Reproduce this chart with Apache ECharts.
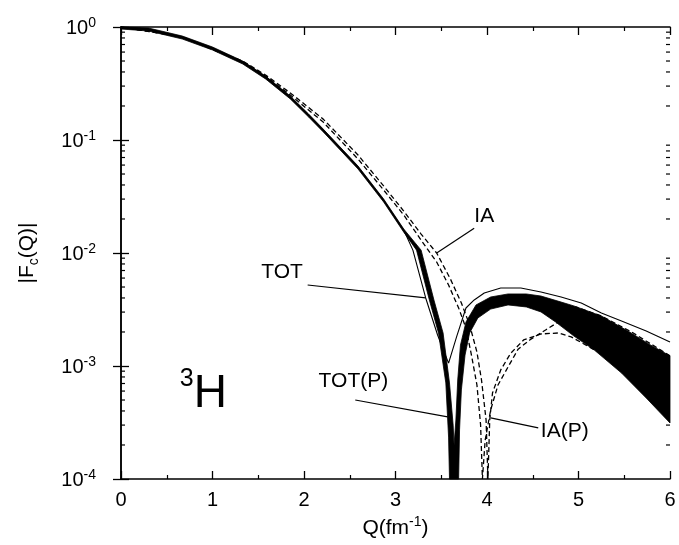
<!DOCTYPE html>
<html>
<head>
<meta charset="utf-8">
<script src="https://cdn.jsdelivr.net/npm/echarts@6/dist/echarts.min.js"></script>
<style>
html, body { margin: 0; padding: 0; background: #fff; }
#chart { width: 679px; height: 545px; }
</style>
</head>
<body>
<div id="chart"></div>
<script>
// |Fc(Q)| of 3H (Q in fm^-1)
var totQ = [0, 0.30, 0.67, 1.00, 1.33, 1.58, 1.85, 2.05, 2.21, 2.59, 2.87, 3.09, 3.19, 3.33, 3.46, 3.58, 3.67, 3.77, 3.86, 3.97, 4.15, 4.37, 4.59, 4.81, 5.03, 5.25, 5.47, 5.74, 6.00];
var totF = [1.0, 0.960, 0.816, 0.652, 0.490, 0.361, 0.240, 0.166, 0.122, 0.0577, 0.0294, 0.0160, 0.0106, 0.0040, 0.00188, 0.00106, 0.00184, 0.00326, 0.00384, 0.00443, 0.00490, 0.00490, 0.00452, 0.00408, 0.00361, 0.00294, 0.00250, 0.00204, 0.00163];

// TOT(P) band: upper and lower edge
var bandTopQ = [0, 0.30, 0.67, 1.00, 1.33, 1.58, 1.85, 2.05, 2.21, 2.59, 2.87, 3.09, 3.28, 3.42, 3.52, 3.59, 3.63, 3.64, 3.66, 3.68, 3.71, 3.77, 3.88, 4.04, 4.23, 4.43, 4.59, 4.81, 4.95, 5.25, 5.54, 5.79, 6.00];
var bandTopF = [1.0, 0.980, 0.832, 0.665, 0.500, 0.368, 0.245, 0.170, 0.125, 0.0589, 0.0301, 0.0163, 0.0106, 0.00384, 0.00196, 0.000708, 0.000300, 0.000200, 0.000333, 0.000752, 0.00153, 0.00245, 0.00347, 0.00408, 0.00434, 0.00434, 0.00416, 0.00368, 0.00340, 0.00277, 0.00204, 0.00153, 0.00123];
var bandLowQ = [0, 0.30, 0.67, 1.00, 1.33, 1.58, 1.85, 2.05, 2.21, 2.59, 2.87, 3.09, 3.23, 3.37, 3.47, 3.55, 3.58, 3.59, 3.69, 3.70, 3.72, 3.76, 3.81, 3.90, 4.04, 4.23, 4.43, 4.59, 4.75, 4.95, 5.17, 5.47, 5.74, 6.00];
var bandLowF = [0.960, 0.922, 0.783, 0.626, 0.471, 0.347, 0.231, 0.160, 0.118, 0.0554, 0.0283, 0.0153, 0.0106, 0.00384, 0.00196, 0.000708, 0.000235, 0.0001, 0.0001, 0.000272, 0.000614, 0.00125, 0.00196, 0.00266, 0.00319, 0.00347, 0.00333, 0.00301, 0.00245, 0.00184, 0.00139, 0.000867, 0.000521, 0.000313];

// IA and IA(P), dashed
var iaQ = [0, 0.67, 1.33, 1.58, 1.85, 2.21, 2.59, 2.87, 3.09, 3.28, 3.45, 3.60, 3.72, 3.81, 3.89, 3.94, 3.99, 4.01, 4.03, 4.06, 4.15, 4.26, 4.40, 4.59, 4.78, 4.92, 5.14, 5.47, 6.00];
var iaF = [1.0, 0.816, 0.500, 0.376, 0.261, 0.153, 0.0737, 0.0392, 0.0235, 0.0147, 0.0100, 0.00589, 0.00361, 0.00231, 0.00133, 0.000752, 0.000333, 0.0001, 0.000333, 0.000577, 0.000923, 0.00130, 0.00170, 0.00192, 0.00196, 0.00181, 0.00144, 0.00102, 0.000554];
var iapQ = [0, 0.67, 1.33, 1.58, 1.85, 2.21, 2.59, 2.87, 3.09, 3.28, 3.45, 3.58, 3.69, 3.77, 3.83, 3.89, 3.93, 3.95, 3.98, 4.04, 4.12, 4.23, 4.34, 4.48, 4.64, 4.78, 4.86, 4.97, 5.25, 5.58, 6.00];
var iapF = [1.0, 0.816, 0.490, 0.368, 0.250, 0.144, 0.0679, 0.0361, 0.0217, 0.0130, 0.00832, 0.00521, 0.00326, 0.00217, 0.00125, 0.000679, 0.000301, 0.0001, 0.000221, 0.000408, 0.000679, 0.000980, 0.00141, 0.00173, 0.00208, 0.00245, 0.00301, 0.00333, 0.00277, 0.00200, 0.00123];

// curve labels and their pointer lines
var labelText = ['IA', 'TOT', 'TOT(P)', 'IA(P)'];
var labelQ = [3.97, 1.76, 2.54, 4.85];
var labelF = [0.0212, 0.00679, 0.000737, 0.000266];
var ptrQ0 = [3.86, 2.04, 2.56, 4.04];
var ptrF0 = [0.0166, 0.00521, 0.00050, 0.000347];
var ptrQ1 = [3.45, 3.33, 3.57, 4.56];
var ptrF1 = [0.0100, 0.00400, 0.000354, 0.000283];
var nucleusQ = 0.9, nucleusF = 0.00059;

// ticks
var xTickLabels = ['0', '1', '2', '3', '4', '5', '6'];
var yTickVals = [0.0001, 0.001, 0.01, 0.1, 1];
var yTickExp = ['-4', '-3', '-2', '-1', '0'];
var yMinorMant = [2, 3, 4, 5, 6, 7, 8, 9];
var yDecades = [0.0001, 0.001, 0.01, 0.1];

function pairs(q, f) {
    return q.map(function (v, i) { return [v, f[i]]; });
}

var minorData = [];
yDecades.forEach(function (d) {
    yMinorMant.forEach(function (m) { minorData.push([0, d * m]); });
});

var FONT = 'Liberation Sans';

var xAxisBase = {
    type: 'value',
    min: 0,
    max: 6,
    interval: 1,
    axisLine: { lineStyle: { color: '#000', width: 1.5 } },
    axisTick: { inside: true, length: 8, lineStyle: { color: '#000', width: 1.3 } },
    minorTick: { show: true, splitNumber: 2, length: 4, lineStyle: { color: '#000', width: 1.2 } },
    splitLine: { show: false }
};
var yAxisBase = {
    type: 'log',
    logBase: 10,
    min: 0.0001,
    max: 1,
    axisLine: { lineStyle: { color: '#000', width: 1.5 } },
    axisTick: { inside: true, length: 8, lineStyle: { color: '#000', width: 1.3 } },
    splitLine: { show: false }
};

var myChart = echarts.init(document.getElementById('chart'));
var option = {
    animation: false,
    backgroundColor: '#fff',
    grid: { left: 121, right: 9, top: 27, bottom: 66 },
    xAxis: [
        Object.assign({}, xAxisBase, {
            position: 'bottom',
            axisLabel: {
                color: '#000', fontSize: 20, fontFamily: FONT, margin: 11,
                formatter: function (v) { return xTickLabels[Math.round(v)]; }
            },
            name: '{a|Q(fm}{s|-1}{a|)}',
            nameLocation: 'middle',
            nameGap: 26,
            nameTextStyle: {
                rich: {
                    a: { fontSize: 21, fontFamily: FONT, color: '#000', verticalAlign: 'bottom', lineHeight: 24 },
                    s: { fontSize: 14, fontFamily: FONT, color: '#000', verticalAlign: 'top', lineHeight: 14 }
                }
            }
        }),
        Object.assign({}, xAxisBase, { position: 'top', axisLabel: { show: false } })
    ],
    yAxis: [
        Object.assign({}, yAxisBase, {
            position: 'left',
            axisLabel: {
                margin: 25,
                formatter: function (v) {
                    var k = 0;
                    yTickVals.forEach(function (t, i) { if (Math.abs(Math.log10(t) - Math.log10(v)) < 0.01) k = i; });
                    return '{b|10}{s|' + yTickExp[k] + '}';
                },
                rich: {
                    b: { fontSize: 20, fontFamily: FONT, color: '#000', verticalAlign: 'bottom', lineHeight: 22 },
                    s: { fontSize: 14, fontFamily: FONT, color: '#000', verticalAlign: 'top', lineHeight: 14 }
                }
            },
            name: '{a||F}{c|c}{a|(Q)|}',
            nameLocation: 'middle',
            nameRotate: 90,
            nameGap: 80,
            nameTextStyle: {
                rich: {
                    a: { fontSize: 21, fontFamily: FONT, color: '#000', verticalAlign: 'top', lineHeight: 24 },
                    c: { fontSize: 14, fontFamily: FONT, color: '#000', verticalAlign: 'bottom', lineHeight: 24 }
                }
            }
        }),
        Object.assign({}, yAxisBase, { position: 'right', axisLabel: { show: false } })
    ],
    series: [
        {
            // TOT(P) band
            type: 'custom',
            z: 2,
            data: [[0, 1]],
            renderItem: function (params, api) {
                var pts = [];
                for (var i = 0; i < bandTopQ.length; i++) pts.push(api.coord([bandTopQ[i], bandTopF[i]]));
                for (var j = bandLowQ.length - 1; j >= 0; j--) pts.push(api.coord([bandLowQ[j], bandLowF[j]]));
                return { type: 'polygon', shape: { points: pts }, style: { fill: '#000', stroke: '#000', lineWidth: 0.8 } };
            }
        },
        {
            name: 'TOT', type: 'line', z: 3, symbol: 'none',
            data: pairs(totQ, totF),
            lineStyle: { color: '#000', width: 1.1 }
        },
        {
            name: 'IA', type: 'line', z: 3, symbol: 'none',
            data: pairs(iaQ, iaF),
            lineStyle: { color: '#000', width: 1.3, type: [5, 3] }
        },
        {
            name: 'IA(P)', type: 'line', z: 3, symbol: 'none',
            data: pairs(iapQ, iapF),
            lineStyle: { color: '#000', width: 1.3, type: [5, 3] }
        },
        {
            // pointer lines from labels to curves
            type: 'lines', coordinateSystem: 'cartesian2d', z: 4,
            lineStyle: { color: '#000', width: 1.2, opacity: 1 },
            data: ptrQ0.map(function (q, i) {
                return { coords: [[q, ptrF0[i]], [ptrQ1[i], ptrF1[i]]] };
            })
        },
        {
            // log minor ticks on left and right frame
            type: 'custom', z: 6,
            data: minorData,
            renderItem: function (params, api) {
                var v = api.value(1);
                var l = api.coord([0, v]), r = api.coord([6, v]);
                return {
                    type: 'group', children: [
                        { type: 'line', shape: { x1: l[0], y1: l[1], x2: l[0] + 4, y2: l[1] }, style: { stroke: '#000', lineWidth: 1.2 } },
                        { type: 'line', shape: { x1: r[0], y1: r[1], x2: r[0] - 4, y2: r[1] }, style: { stroke: '#000', lineWidth: 1.2 } }
                    ]
                };
            }
        }
    ]
};
myChart.setOption(option);

// text labels placed at data positions through the chart's own scales
var texts = labelText.map(function (t, i) {
    var p = myChart.convertToPixel({ gridIndex: 0 }, [labelQ[i], labelF[i]]);
    return {
        type: 'text', x: p[0], y: p[1], z: 10,
        style: { text: t, fill: '#000', font: '21px "Liberation Sans"', align: 'center', verticalAlign: 'middle' }
    };
});
var np = myChart.convertToPixel({ gridIndex: 0 }, [nucleusQ, nucleusF]);
texts.push({
    type: 'text', x: np[0], y: np[1], z: 10,
    style: {
        text: '{s|3}{h|H}', align: 'center', verticalAlign: 'middle',
        rich: {
            s: { fontSize: 25, fontFamily: FONT, fill: '#000', verticalAlign: 'top', lineHeight: 25 },
            h: { fontSize: 46, fontFamily: FONT, fill: '#000', verticalAlign: 'bottom', lineHeight: 50 }
        }
    }
});
myChart.setOption({ graphic: texts });
</script>
</body>
</html>
